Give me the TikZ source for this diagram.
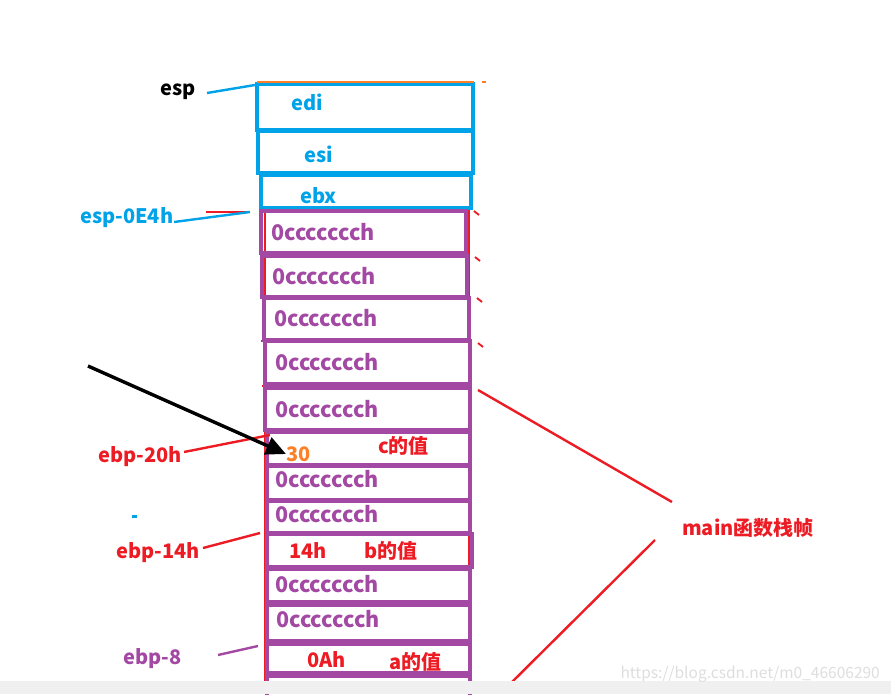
\documentclass[tikz,border=0pt]{standalone}
\usepackage{fontspec}
\setmainfont{Noto Sans CJK SC}
\usetikzlibrary{arrows.meta}
\definecolor{pblue}{HTML}{00A2E8}
\definecolor{ppurple}{HTML}{A349A4}
\definecolor{pred}{HTML}{ED1C24}
\definecolor{porange}{HTML}{FF7F27}
\definecolor{pgray}{HTML}{F0F0F0}
\begin{document}
\begin{tikzpicture}[x=1pt,y=-1pt,
  bluebox/.style={draw=pblue,line width=3.2pt},
  purpbox/.style={draw=ppurple,line width=3.2pt},
  txt/.style={font=\fontsize{20}{22}\selectfont\bfseries,inner sep=0pt,anchor=west},
  cell/.style={txt,font=\fontsize{21.5}{22}\selectfont\bfseries,text=ppurple},
  redline/.style={draw=pred,line width=2.4pt},
]
\useasboundingbox (0,0) rectangle (891,694);
\fill[white] (0,0) rectangle (891,694);
% red underlay verticals
\draw[pred,line width=2.4pt] (265,210) -- (265,694);
\draw[pred,line width=2.4pt] (469,210) -- (469,694);
\draw[pred,line width=1.5pt] (261,341) -- (268,341);
\draw[pred,line width=1.5pt] (262,386) -- (268,386);
% blue boxes
\draw[bluebox] (257,84) rectangle (473,130);
\draw[bluebox] (258,131) rectangle (473,173);
\draw[bluebox] (261,175) rectangle (471,208);
\node[txt,text=pblue] (edi) at (291,102) {edi};
\node[txt,text=pblue] (esi) at (304,154) {esi};
\node[txt,text=pblue] (ebx) at (300,196) {ebx};
% purple boxes
\foreach \a/\b/\c/\d in {261/211/466/253, 262/256/467/297, 264/298/469/340, 265/341/470/384, 265/388/470/430, 267/432/470/465, 267/466/470/500, 267/501/470/533, 267/534/472/567, 267/569/470/602, 267/605/470/641, 267/644/470/673, 267/676/470/704}
  \draw[purpbox] (\a,\b) rectangle (\c,\d);
\node[cell] (p1) at (271,232) {0ccccccch};
\node[cell] (p2) at (272,276) {0ccccccch};
\node[cell] (p3) at (274,318) {0ccccccch};
\node[cell] (p4) at (275,362) {0ccccccch};
\node[cell] (p5) at (275,409) {0ccccccch};
\node[cell] (p7) at (275,479) {0ccccccch};
\node[cell] (p8) at (275,514) {0ccccccch};
\node[cell] (p10) at (275,584) {0ccccccch};
\node[cell] (p11) at (276,619) {0ccccccch};
\node[txt,text=porange] (v30) at (286,454) {30};
\node[txt,text=pred] (cval) at (378,446) {c的值};
\node[txt,text=pred] (v14) at (289,550) {14h};
\node[txt,text=pred] (bval) at (364,551) {b的值};
\node[txt,text=pred] (v0a) at (307,660) {0Ah};
\node[txt,text=pred] (aval) at (389,662) {a的值};
% top orange line
\draw[porange,line width=1.8pt] (257,82) -- (474,82);
\draw[porange,line width=1.8pt] (482,82) -- (486,82);
% left labels
\node[txt,text=black] (esp) at (160,92) {esp};
\coordinate (espend) at (255,85);
\draw[pblue,line width=2.4pt] (207,93) -- (espend);
\node[txt,text=pblue] (esp0e4) at (80,218) {esp-0E4h};
\coordinate (e0end) at (250,212);
\draw[pred,line width=2.4pt] (206,212) -- (e0end);
\draw[pblue,line width=2.4pt] (174,222) -- (e0end);
\node[txt,text=pred] (ebp20) at (98,457) {ebp-20h};
\coordinate (e20end) at (270,435);
\draw[pred,line width=2.4pt] (184,452) -- (e20end);
\node[txt,text=pred] (ebp14) at (116,553) {ebp-14h};
\coordinate (e14end) at (260,533);
\draw[pred,line width=2.4pt] (203,548) -- (e14end);
\node[txt,text=ppurple] (ebp8) at (123,659) {ebp-8};
\coordinate (e8end) at (258,646);
\draw[ppurple,line width=2.4pt] (218,655) -- (e8end);
\fill[pblue] (132,515) rectangle (137,518);
% black arrow
\coordinate (arrtail) at (88,366);
\draw[line width=3.4pt,-{Triangle[length=20pt,width=18pt]}] (arrtail) -- (v30.west);
% right ticks
\foreach \x/\y in {474/211, 475/257, 477/298, 478/343}
  \draw[pred,line width=1.8pt] (\x,\y) -- ++(5,4);
% main label
\node[txt,text=pred] (mainlbl) at (682,528) {main函数栈帧};
\draw[redline] (478,390) -- (672,502);
\draw[redline] (655,540) -- (512,682);
% bottom band
\fill[pgray] (0,681) rectangle (891,694);
\node[font=\fontsize{15.5}{17}\selectfont,text=black!13,inner sep=0pt,anchor=east] (wm) at (880,674) {https://blog.csdn.net/m0\_46606290};
\end{tikzpicture}
\end{document}
